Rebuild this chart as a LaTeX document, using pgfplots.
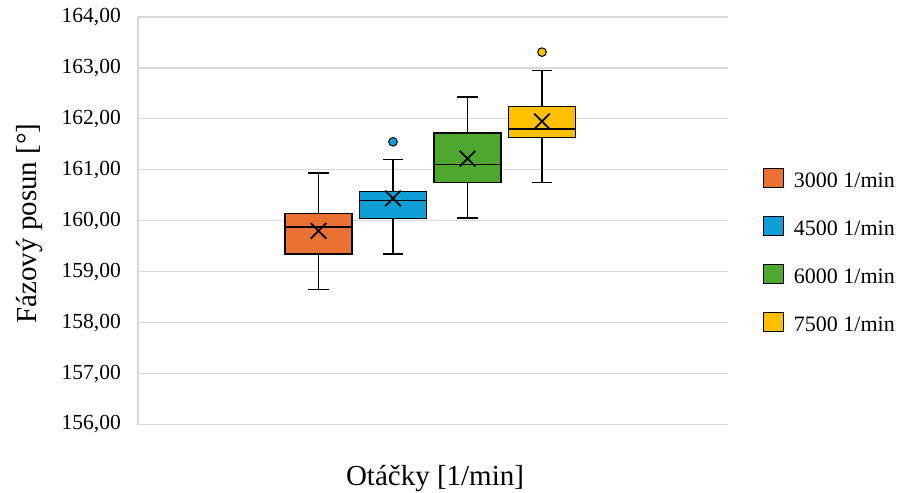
\documentclass[border=0pt]{standalone}
\usepackage{fontspec}
\setmainfont{Liberation Serif}
\usepackage{pgfplots}
\pgfplotsset{compat=1.18}
\usepgfplotslibrary{statistics}
\definecolor{orangeC}{HTML}{E97132}
\definecolor{blueC}{HTML}{0F9ED5}
\definecolor{greenC}{HTML}{4EA72E}
\definecolor{yellowC}{HTML}{FFC000}
\definecolor{gridC}{HTML}{D9D9D9}
\begin{document}
\begin{tikzpicture}
\path[use as bounding box] (-138pt,-67.5pt) rectangle (763pt,424.5pt);
\begin{axis}[
  at={(0pt,0pt)}, anchor=south west,
  scale only axis, width=590pt, height=407.5pt,
  xmin=-1.423, xmax=6.497, ymin=156, ymax=164,
  boxplot/draw direction=y,
  ytick={156,157,...,164}, xtick=\empty,
  ymajorgrids, major grid style={gridC, line width=1.2pt},
  axis lines=left, axis line style={-},
  x axis line style={draw=none},
  y axis line style={draw=gridC, line width=1.2pt},
  major tick length=0pt,
  yticklabel={\pgfmathprintnumber{\tick}},
  yticklabel style={font=\fontsize{21.5pt}{24pt}\selectfont, anchor=east, inner sep=0pt, xshift=-17pt,
    /pgf/number format/fixed, /pgf/number format/fixed zerofill, /pgf/number format/precision=2,
    /pgf/number format/use comma, /pgf/number format/1000 sep={}, /pgf/number format/assume math mode=true},
  xlabel={Otáčky [1/min]},
  ylabel={Fázový posun [°]},
  every axis x label/.style={at={(axis description cs:0.5034,-0.1485)}, anchor=base, font=\fontsize{29pt}{32pt}\selectfont},
  every axis y label/.style={at={(axis description cs:-0.1712,0.4933)}, rotate=90, anchor=base, font=\fontsize{29pt}{32pt}\selectfont},
  legend style={at={(axis description cs:1.0593,0.6302)}, anchor=north west, draw=none, fill=none,
    inner sep=0pt, outer sep=0pt, row sep=28pt, column sep=10pt,
    font=\fontsize{22pt}{24pt}\selectfont,
    cells={anchor=base west},
    nodes={inner sep=0pt, text height=19pt, text depth=0pt}},
  legend image code/.code={\draw[#1,draw=black,line width=1pt] (0pt,0pt) rectangle (20pt,19pt);},
]
\addplot[forget plot, draw=black, line width=1.5pt, fill=orangeC,
  boxplot prepared={draw position=1, lower whisker=158.65, lower quartile=159.35, median=159.88,
    upper quartile=160.14, upper whisker=160.94, box extend=0.9, whisker extend=0.27}] coordinates {};
\addplot[forget plot, draw=black, line width=1.5pt, fill=blueC,
  boxplot prepared={draw position=2, lower whisker=159.35, lower quartile=160.045, median=160.40,
    upper quartile=160.575, upper whisker=161.20, box extend=0.9, whisker extend=0.27}] coordinates {};
\addplot[forget plot, draw=black, line width=1.5pt, fill=greenC,
  boxplot prepared={draw position=3, lower whisker=160.05, lower quartile=160.75, median=161.10,
    upper quartile=161.72, upper whisker=162.43, box extend=0.9, whisker extend=0.27}] coordinates {};
\addplot[forget plot, draw=black, line width=1.5pt, fill=yellowC,
  boxplot prepared={draw position=4, lower whisker=160.75, lower quartile=161.63, median=161.80,
    upper quartile=162.24, upper whisker=162.95, box extend=0.9, whisker extend=0.27}] coordinates {};
% means
\addplot[forget plot, only marks, mark=x, mark size=11pt, line width=1.8pt, black]
  coordinates {(1,159.80) (2,160.44) (3,161.22) (4,161.95)};
% outliers
\addplot[forget plot, only marks, mark=*, mark size=4.3pt, mark options={draw=black, fill=blueC, line width=1pt}]
  coordinates {(2,161.55)};
\addplot[forget plot, only marks, mark=*, mark size=4.3pt, mark options={draw=black, fill=yellowC, line width=1pt}]
  coordinates {(4,163.31)};
\addlegendimage{fill=orangeC}\addlegendentry{3000 1/min}
\addlegendimage{fill=blueC}\addlegendentry{4500 1/min}
\addlegendimage{fill=greenC}\addlegendentry{6000 1/min}
\addlegendimage{fill=yellowC}\addlegendentry{7500 1/min}
\end{axis}
\end{tikzpicture}
\end{document}
